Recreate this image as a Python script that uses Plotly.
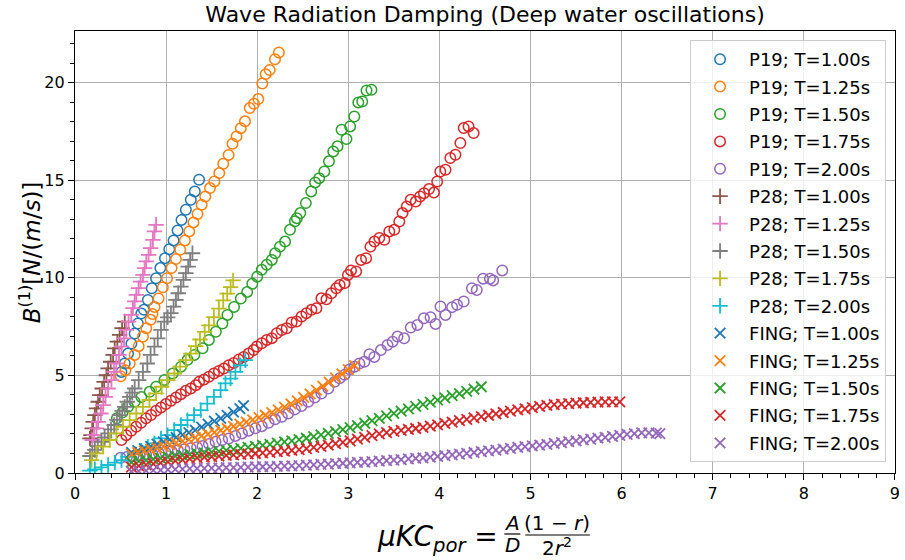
import plotly.graph_objects as go

# ---------------- data ----------------
P19_T100 = [(0.51,5.18),(0.546,5.61),(0.582,6.12),(0.619,6.63),(0.655,7.15),(0.69,7.66),(0.728,8.17),
            (0.757,8.36),(0.80,8.87),(0.843,9.47),(0.89,9.98),(0.937,10.5),(0.988,11.01),(1.035,11.47),
            (1.082,11.92),(1.126,12.43),(1.169,12.97),(1.217,13.49),(1.271,14.0),(1.315,14.43),(1.362,15.03)]

P19_T125 = [(0.502,4.96),(0.553,5.27),(0.60,5.61),(0.655,6.05),(0.699,6.5),(0.746,6.99),(0.782,7.42),
            (0.83,7.85),(0.85,8.15),(0.873,8.51),(0.917,8.94),(0.964,9.52),(1.01,9.98),(1.06,10.5),
            (1.108,10.96),(1.155,11.44),(1.206,11.92),(1.254,12.38),(1.30,12.84),(1.345,13.27),(1.39,13.74),
            (1.43,14.17),(1.482,14.6),(1.529,14.94),(1.584,15.37),(1.627,15.85),(1.686,16.3),(1.729,16.87),
            (1.773,17.25),(1.82,17.67),(1.866,18.02),(1.918,18.7),(1.965,18.92),(2.012,19.16),(2.056,19.96),
            (2.093,20.44),(2.137,20.65),(2.195,21.2),(2.238,21.55)]

P19_T150 = [(0.46,2.8),(0.52,3.1),(0.582,3.39),(0.655,3.65),(0.728,3.9),(0.819,4.16),(0.89,4.42),
            (0.982,4.77),(1.073,5.1),(1.164,5.45),(1.236,5.8),(1.31,6.05),(1.40,6.39),(1.47,6.82),
            (1.546,7.24),(1.618,7.66),(1.673,8.1),(1.746,8.51),(1.82,8.94),(1.89,9.28),(1.946,9.7),
            (2.0,10.06),(2.05,10.41),(2.105,10.67),(2.16,10.92),(2.197,11.26),(2.25,11.6),(2.306,11.86),
            (2.36,12.46),(2.414,12.9),(2.435,13.06),(2.473,13.32),(2.534,13.83),(2.593,14.43),(2.636,14.89),
            (2.68,15.11),(2.737,15.45),(2.788,15.97),(2.835,16.48),(2.882,16.74),(2.926,17.59),(2.98,17.11),
            (3.02,17.76),(3.066,18.27),(3.11,18.99),(3.153,19.04),(3.20,19.6),(3.254,19.64)]

P19_T175 = [(0.51,1.69),(0.563,1.94),(0.617,2.16),(0.671,2.37),(0.726,2.57),(0.78,2.8),(0.835,2.97),
            (0.89,3.19),(0.944,3.36),(0.998,3.53),(1.053,3.7),(1.108,3.87),(1.162,4.04),(1.217,4.21),
            (1.271,4.33),(1.326,4.5),(1.362,4.67),(1.416,4.79),(1.47,4.93),(1.525,5.1),(1.58,5.23),
            (1.634,5.35),(1.688,5.52),(1.742,5.64),(1.797,5.81),(1.852,5.95),(1.906,6.12),(1.96,6.3),
            (1.997,6.48),(2.05,6.65),(2.105,6.82),(2.16,6.91),(2.215,7.16),(2.27,7.33),(2.324,7.42),
            (2.378,7.71),(2.432,7.76),(2.487,8.02),(2.54,8.19),(2.596,8.36),(2.65,8.44),(2.705,8.95),
            (2.76,8.9),(2.814,9.21),(2.868,9.47),(2.905,9.64),(2.96,9.73),(2.996,10.15),(3.03,10.38),
            (3.086,10.33),(3.14,10.92),(3.195,11.01),(3.243,11.6),(3.287,11.86),(3.34,12.04),(3.396,11.95),
            (3.45,12.38),(3.505,12.46),(3.56,12.89),(3.595,13.32),(3.642,13.66),(3.685,14.0),(3.74,13.91),
            (3.788,14.17),(3.83,14.34),(3.886,14.55),(3.94,14.37),(3.976,14.94),(4.01,15.45),(4.067,15.54),
            (4.12,16.14),(4.176,16.31),(4.23,16.91),(4.267,17.68),(4.32,17.76),(4.376,17.42)]

P19_T200 = [(0.50,0.78),(0.57,0.82),(0.64,0.86),(0.71,0.9),(0.78,0.95),(0.85,0.99),(0.92,1.03),
            (0.99,1.07),(1.06,1.12),(1.13,1.17),(1.20,1.22),(1.27,1.27),(1.34,1.32),(1.40,1.38),
            (1.47,1.48),(1.543,1.6),(1.615,1.69),(1.688,1.77),(1.76,1.9),(1.833,2.03),(1.906,2.17),
            (1.98,2.29),(2.05,2.4),(2.124,2.57),(2.196,2.75),(2.27,2.88),(2.34,3.05),(2.414,3.26),
            (2.487,3.43),(2.56,3.65),(2.632,3.87),(2.705,4.07),(2.78,4.33),(2.85,4.67),(2.905,4.85),
            (2.96,5.03),(3.013,5.31),(3.068,5.45),(3.122,5.61),(3.177,5.7),(3.232,6.09),(3.286,5.95),
            (3.358,6.3),(3.43,6.56),(3.486,6.73),(3.54,6.99),(3.613,6.9),(3.685,7.45),(3.758,7.59),
            (3.83,7.93),(3.903,7.98),(3.958,7.64),(4.012,8.53),(4.067,8.1),(4.14,8.5),(4.194,8.62),
            (4.267,8.79),(4.357,9.47),(4.41,9.38),(4.48,9.96),(4.555,9.96),(4.59,9.87),(4.69,10.38)]

P28_T100 = [(0.164,1.77),(0.175,1.94),(0.189,2.29),(0.2,2.62),(0.218,2.97),(0.236,3.31),(0.254,3.65),
            (0.272,3.99),(0.298,4.33),(0.32,4.67),(0.345,5.01),(0.363,5.36),(0.392,5.7),(0.418,6.05),
            (0.436,6.39),(0.465,6.73),(0.49,7.08),(0.517,7.42),(0.546,7.76)]

P28_T125 = [(0.189,1.69),(0.21,1.94),(0.236,2.29),(0.254,2.62),(0.284,3.05),(0.309,3.48),(0.335,3.9),
            (0.363,4.33),(0.4,4.76),(0.428,5.18),(0.454,5.61),(0.483,6.05),(0.51,6.48),(0.537,6.9),
            (0.563,7.33),(0.588,7.76),(0.618,8.1),(0.636,8.45),(0.655,8.79),(0.673,9.13),(0.698,9.47),
            (0.72,9.81),(0.746,10.15),(0.764,10.5),(0.782,10.84),(0.808,11.18),(0.83,11.52),(0.855,11.95),
            (0.872,12.38),(0.89,12.72)]

P28_T150 = [(0.164,0.87),(0.19,1.02),(0.218,1.18),(0.25,1.38),(0.29,1.6),(0.325,1.82),(0.363,2.03),
            (0.395,2.24),(0.43,2.46),(0.46,2.72),(0.49,2.97),(0.518,3.18),(0.546,3.39),(0.573,3.65),
            (0.60,3.9),(0.628,4.12),(0.655,4.33),(0.699,4.76),(0.746,5.18),(0.794,5.61),(0.83,6.05),
            (0.872,6.48),(0.908,6.9),(0.944,7.33),(0.98,7.76),(1.017,7.98),(1.053,8.19),(1.082,8.53),
            (1.108,8.87),(1.133,9.21),(1.162,9.55),(1.19,9.9),(1.217,10.24),(1.242,10.58),(1.264,10.92),
            (1.289,11.26)]

P28_T175 = [(0.182,0.66),(0.236,1.01),(0.309,1.35),(0.382,1.69),(0.455,2.03),(0.527,2.37),(0.60,2.71),
            (0.673,3.05),(0.746,3.39),(0.817,3.74),(0.89,4.08),(0.951,4.42),(1.017,4.76),(1.09,5.1),
            (1.155,5.45),(1.217,5.78),(1.271,6.12),(1.326,6.5),(1.372,6.84),(1.423,7.23),(1.47,7.57),
            (1.525,7.99),(1.58,8.42),(1.627,8.85),(1.671,9.19),(1.708,9.53),(1.736,9.87)]

P28_T200 = [(0.164,0.12),(0.218,0.19),(0.29,0.29),(0.364,0.41),(0.437,0.53),(0.51,0.66),(0.582,0.83),
            (0.655,0.97),(0.728,1.14),(0.8,1.35),(0.872,1.52),(0.944,1.77),(1.016,1.94),(1.089,2.2),
            (1.162,2.46),(1.234,2.71),(1.307,2.97),(1.38,3.22),(1.452,3.56),(1.525,3.9),(1.598,4.25),
            (1.652,4.59),(1.707,4.84),(1.761,5.18),(1.815,5.52),(1.87,5.78)]

FING_T100 = [(0.62,1.05),(0.69,1.15),(0.76,1.25),(0.83,1.37),(0.90,1.48),(0.97,1.6),(1.04,1.71),
             (1.11,1.82),(1.18,1.95),(1.25,2.07),(1.32,2.2),(1.39,2.35),(1.46,2.5),(1.53,2.66),
             (1.60,2.8),(1.67,2.95),(1.74,3.12),(1.81,3.3),(1.85,3.45)]

FING_T125 = [(0.62,0.97),(0.69,1.05),(0.76,1.13),(0.83,1.21),(0.90,1.29),(0.97,1.37),(1.04,1.45),
             (1.11,1.54),(1.18,1.63),(1.25,1.72),(1.32,1.81),(1.39,1.9),(1.46,1.99),(1.53,2.08),
             (1.60,2.18),(1.67,2.28),(1.74,2.39),(1.81,2.5),(1.88,2.61),(1.95,2.72),(2.02,2.84),
             (2.09,2.96),(2.16,3.09),(2.23,3.23),(2.30,3.38),(2.37,3.54),(2.44,3.7),(2.51,3.87),
             (2.58,4.05),(2.65,4.25),(2.72,4.45),(2.79,4.66),(2.86,4.87),(2.93,5.08),(3.00,5.3),(3.07,5.5)]

FING_T150 = [(0.62,0.55),(0.70,0.61),(0.78,0.66),(0.86,0.71),(0.94,0.76),(1.02,0.81),(1.10,0.86),
             (1.18,0.9),(1.26,0.95),(1.34,0.99),(1.42,1.03),(1.50,1.07),(1.58,1.11),(1.66,1.16),
             (1.74,1.21),(1.82,1.26),(1.90,1.31),(1.98,1.36),(2.06,1.41),(2.14,1.47),(2.22,1.53),
             (2.30,1.59),(2.38,1.65),(2.46,1.71),(2.54,1.78),(2.62,1.86),(2.70,1.95),(2.78,2.03),
             (2.86,2.12),(2.94,2.22),(3.02,2.32),(3.10,2.43),(3.18,2.55),(3.26,2.68),(3.34,2.8),
             (3.42,2.93),(3.50,3.05),(3.58,3.17),(3.66,3.29),(3.74,3.41),(3.82,3.52),(3.90,3.63),
             (3.98,3.74),(4.06,3.85),(4.14,3.96),(4.22,4.07),(4.30,4.18),(4.38,4.3),(4.46,4.42)]

FING_T175 = [(0.62,0.3),(0.70,0.36),(0.78,0.42),(0.86,0.47),(0.94,0.52),(1.02,0.57),(1.10,0.62),
             (1.18,0.67),(1.26,0.72),(1.34,0.77),(1.42,0.81),(1.50,0.84),(1.58,0.87),(1.66,0.9),
             (1.74,0.93),(1.82,0.95),(1.90,0.98),(1.98,1.0),(2.06,1.03),(2.14,1.06),(2.22,1.09),
             (2.30,1.12),(2.38,1.16),(2.46,1.2),(2.54,1.25),(2.62,1.31),(2.70,1.37),(2.78,1.43),
             (2.86,1.5),(2.94,1.57),(3.02,1.65),(3.10,1.74),(3.18,1.83),(3.26,1.92),(3.34,2.0),
             (3.42,2.07),(3.50,2.13),(3.58,2.18),(3.66,2.23),(3.74,2.28),(3.82,2.34),(3.90,2.4),
             (3.98,2.47),(4.06,2.54),(4.14,2.61),(4.22,2.68),(4.30,2.75),(4.38,2.82),(4.46,2.89),
             (4.54,2.96),(4.62,3.03),(4.70,3.1),(4.78,3.17),(4.86,3.23),(4.94,3.29),(5.02,3.35),
             (5.10,3.41),(5.18,3.46),(5.26,3.5),(5.34,3.53),(5.42,3.56),(5.50,3.58),(5.58,3.6),
             (5.66,3.62),(5.74,3.63),(5.82,3.64),(5.90,3.65),(5.98,3.65)]

FING_T200 = [(0.62,0.08),(0.70,0.1),(0.78,0.12),(0.86,0.14),(0.94,0.15),(1.02,0.17),(1.10,0.19),
             (1.18,0.2),(1.26,0.22),(1.34,0.23),(1.42,0.24),(1.50,0.25),(1.58,0.26),(1.66,0.27),
             (1.74,0.28),(1.82,0.29),(1.90,0.3),(1.98,0.31),(2.06,0.32),(2.14,0.33),(2.22,0.34),
             (2.30,0.35),(2.38,0.37),(2.46,0.38),(2.54,0.4),(2.62,0.42),(2.70,0.44),(2.78,0.46),
             (2.86,0.48),(2.94,0.5),(3.02,0.52),(3.10,0.54),(3.18,0.56),(3.26,0.58),(3.34,0.61),
             (3.42,0.63),(3.50,0.66),(3.58,0.69),(3.66,0.72),(3.74,0.75),(3.82,0.78),(3.90,0.81),
             (3.98,0.85),(4.06,0.89),(4.14,0.93),(4.22,0.97),(4.30,1.01),(4.38,1.05),(4.46,1.09),
             (4.54,1.13),(4.62,1.17),(4.70,1.22),(4.78,1.26),(4.86,1.31),(4.94,1.35),(5.02,1.39),
             (5.10,1.43),(5.18,1.47),(5.26,1.52),(5.34,1.56),(5.42,1.61),(5.50,1.65),(5.58,1.7),
             (5.66,1.74),(5.74,1.79),(5.82,1.83),(5.90,1.88),(5.98,1.93),(6.06,1.98),(6.14,2.02),
             (6.22,2.06),(6.30,2.06),(6.38,2.04),(6.42,2.02)]

SERIES_NAMES = ["P19; T=1.00s", "P19; T=1.25s", "P19; T=1.50s", "P19; T=1.75s", "P19; T=2.00s",
                "P28; T=1.00s", "P28; T=1.25s", "P28; T=1.50s", "P28; T=1.75s", "P28; T=2.00s",
                "FING; T=1.00s", "FING; T=1.25s", "FING; T=1.50s", "FING; T=1.75s", "FING; T=2.00s"]
SERIES_DATA = [P19_T100, P19_T125, P19_T150, P19_T175, P19_T200,
               P28_T100, P28_T125, P28_T150, P28_T175, P28_T200,
               FING_T100, FING_T125, FING_T150, FING_T175, FING_T200]

X_TICKS = [0, 1, 2, 3, 4, 5, 6, 7, 8, 9]
Y_TICKS = [0, 5, 10, 15, 20]

# ---------------- styling ----------------
COLORS = ['#1f77b4', '#ff7f0e', '#2ca02c', '#d62728', '#9467bd',
          '#8c564b', '#e377c2', '#7f7f7f', '#bcbd22', '#17becf']
FONT = "DejaVu Sans"

L, R, T, B = 75, 5, 31, 87
W, H = 905, 560
PW, PH = W - L - R, H - T - B


def px2x(px):
    return (px - L) / PW


def py2y(py):
    return (H - B - py) / PH


fig = go.Figure()
for i, (name, data) in enumerate(zip(SERIES_NAMES, SERIES_DATA)):
    grp = i // 5
    if grp == 0:
        col = COLORS[i]
        sym, size, lw = 'circle-open', 10.5, 1.5
    elif grp == 1:
        col = COLORS[i]
        sym, size, lw = 'cross-thin-open', 11, 1.8
    else:
        col = COLORS[i - 10]
        sym, size, lw = 'x-thin-open', 10.5, 1.8
    fig.add_trace(go.Scatter(
        x=[p[0] for p in data], y=[p[1] for p in data], mode='markers', name=name,
        legendgroup=f'g{i}',
        marker=dict(symbol=sym, size=size, color=col, line=dict(color=col, width=lw)),
    ))

axis_common = dict(
    showgrid=True, gridcolor='#b0b0b0', gridwidth=1, zeroline=False,
    showline=True, mirror=True, linecolor='black', linewidth=1.2,
    ticks='outside', ticklen=6, tickwidth=1.1, tickcolor='black',
    tickfont=dict(family=FONT, size=16, color='black'),
    ticklabeloverflow='allow',
)

fig.update_layout(
    width=W, height=H, margin=dict(l=L, r=R, t=T, b=B),
    paper_bgcolor='white', plot_bgcolor='white',
    font=dict(family=FONT, size=16, color='black'),
    title=dict(text='Wave Radiation Damping (Deep water oscillations)', x=0.5, xref='paper',
               xanchor='center', y=1 - 14 / H, yanchor='middle', font=dict(size=22, family=FONT)),
    xaxis=dict(range=[0, 9.001], tickmode='array', tickvals=X_TICKS, ticktext=[str(v) for v in X_TICKS],
               minor=dict(dtick=0.2, tick0=0, ticks='outside', ticklen=3.5, tickcolor='black', showgrid=False),
               **axis_common),
    yaxis=dict(range=[0, 22.65], tickmode='array', tickvals=Y_TICKS, ticktext=[str(v) for v in Y_TICKS],
               minor=dict(dtick=1, tick0=0, ticks='outside', ticklen=3.5, tickcolor='black', showgrid=False),
               **axis_common),
    legend=dict(x=px2x(891), y=py2y(40), xanchor='right', yanchor='top',
                bgcolor='rgba(255,255,255,0.8)', bordercolor='#cccccc', borderwidth=1,
                font=dict(family=FONT, size=18, color='black'), tracegroupgap=1, itemwidth=48),
    showlegend=True,
)

# y axis label
fig.add_annotation(text='<i>B</i><sup>(1)</sup>[<i>N</i>/(<i>m</i>/<i>s</i>)]', textangle=-90,
                   xref='paper', yref='paper', x=px2x(30), y=py2y(252), xanchor='center', yanchor='middle',
                   showarrow=False, font=dict(family=FONT, size=23, color='black'))

# x axis label (built from pieces: mu KC_por = A/D (1-r)/(2r^2))
fig.add_annotation(text='<i>μKC</i><sub><i>por</i></sub> =', xref='paper', yref='paper',
                   x=px2x(377), y=py2y(538), xanchor='left', yanchor='middle', showarrow=False,
                   font=dict(family=FONT, size=28, color='black'))
fig.add_annotation(text='<i>A</i>', xref='paper', yref='paper', x=px2x(515), y=py2y(523),
                   xanchor='center', yanchor='middle', showarrow=False, font=dict(family=FONT, size=20))
fig.add_annotation(text='<i>D</i>', xref='paper', yref='paper', x=px2x(515), y=py2y(545),
                   xanchor='center', yanchor='middle', showarrow=False, font=dict(family=FONT, size=20))
fig.add_annotation(text='(1 − <i>r</i>)', xref='paper', yref='paper', x=px2x(560), y=py2y(523),
                   xanchor='center', yanchor='middle', showarrow=False, font=dict(family=FONT, size=20))
fig.add_annotation(text='2<i>r</i><sup>2</sup>', xref='paper', yref='paper', x=px2x(560), y=py2y(547),
                   xanchor='center', yanchor='middle', showarrow=False, font=dict(family=FONT, size=20))
fig.add_shape(type='line', xref='paper', yref='paper', x0=px2x(507), x1=px2x(523), y0=py2y(534), y1=py2y(534),
              line=dict(color='black', width=1.2))
fig.add_shape(type='line', xref='paper', yref='paper', x0=px2x(528), x1=px2x(593), y0=py2y(535), y1=py2y(535),
              line=dict(color='black', width=1.2))

fig.write_html("out.html")
